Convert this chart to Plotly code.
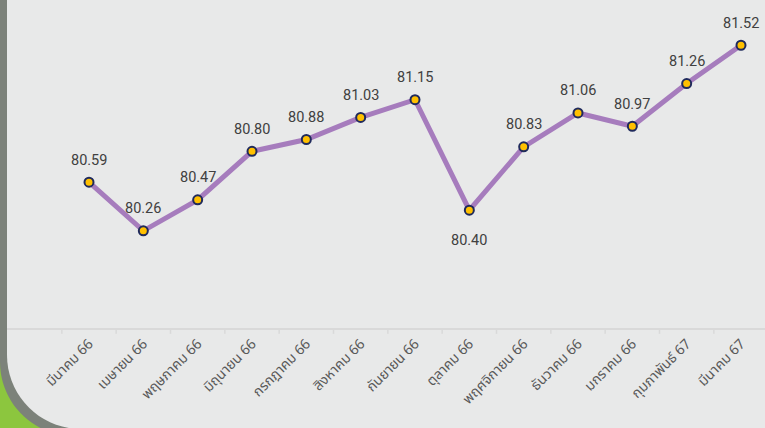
import plotly.graph_objects as go

months = ["มีนาคม 66", "เมษายน 66", "พฤษภาคม 66", "มิถุนายน 66", "กรกฎาคม 66",
          "สิงหาคม 66", "กันยายน 66", "ตุลาคม 66", "พฤศจิกายน 66", "ธันวาคม 66",
          "มกราคม 66", "กุมภาพันธ์ 67", "มีนาคม 67"]
values = [80.59, 80.26, 80.47, 80.80, 80.88, 81.03, 81.15, 80.40, 80.83, 81.06,
          80.97, 81.26, 81.52]
labels = [f"{v:.2f}" for v in values]
labels_below = ["ตุลาคม 66"]

W, H = 765, 428
L, R, T, B = 7, 0, 4, 100
PW, PH = W - L - R, H - T - B

def px(x):
    return (x - L) / PW

def py(y):
    return (H - B - y) / PH

def card_path(x0, yc, rad, ybot, xr=800, ytop=-20):
    k = 0.5523 * rad
    pts = [
        f"M {px(x0)},{py(ytop)}",
        f"L {px(x0)},{py(yc)}",
        f"C {px(x0)},{py(yc + k)} {px(x0 + rad - k)},{py(ybot)} {px(x0 + rad)},{py(ybot)}",
        f"L {px(xr)},{py(ybot)}",
        f"L {px(xr)},{py(ytop)} Z",
    ]
    return " ".join(pts)

fig = go.Figure()
fig.add_trace(go.Scatter(
    x=list(range(len(months))), y=values, mode="lines+markers",
    line=dict(color="#a67cbd", width=5),
    marker=dict(size=9, color="#ffc000", line=dict(color="#1f2a5c", width=2)),
    hoverinfo="skip", showlegend=False, cliponaxis=False,
))

for i, (m, v, t) in enumerate(zip(months, values, labels)):
    fig.add_annotation(x=i, y=v, text=t, showarrow=False,
                       yshift=-30 if m in labels_below else 22,
                       font=dict(family="Roboto, sans-serif", size=14.5, color="#404040"))

shapes = [
    dict(type="path", xref="paper", yref="paper", layer="below",
         path=card_path(0, 362, 74, 436), fillcolor="#7c827a", line=dict(width=0)),
    dict(type="path", xref="paper", yref="paper", layer="below",
         path=card_path(7, 355, 74, 429), fillcolor="#e8e9e9", line=dict(width=0)),
]

spacing = 652 / 12
x_left = (L - 89) / spacing
x_right = (W - R - 89) / spacing

fig.update_layout(
    width=W, height=H,
    margin=dict(l=L, r=R, t=T, b=B),
    paper_bgcolor="#8cc63e",
    plot_bgcolor="rgba(0,0,0,0)",
    shapes=shapes,
    xaxis=dict(
        range=[x_left, x_right],
        tickmode="array", tickvals=list(range(len(months))), ticktext=months,
        tickangle=-45, showgrid=False, zeroline=False,
        showline=True, linecolor="#d9d9d9", linewidth=2,
        ticks="",
        tickfont=dict(family="Noto Sans Thai, Noto Sans, sans-serif", size=14, color="#595959"),
    ),
    yaxis=dict(visible=False, range=[79.6, 81.8]),
)

bounds = [i - 0.5 for i in range(len(months) + 1)]
for b in bounds:
    if x_left <= b <= x_right:
        fig.add_shape(type="line", xref="x", yref="paper", x0=b, x1=b, y0=0, y1=-0.018,
                      line=dict(color="#d9d9d9", width=1.5))

fig.write_html("out.html", config={"displayModeBar": False},
               post_script="document.body.style.margin='0';")
